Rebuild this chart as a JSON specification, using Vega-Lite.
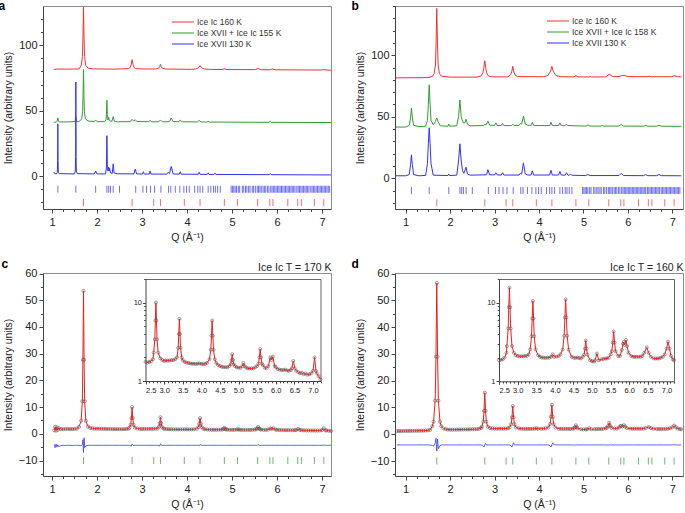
{
"$schema":"https://vega.github.io/schema/vega-lite/v6.json",
"padding":{"left":-3,"top":-2,"right":0,"bottom":0},
"columns":2,
"spacing":{"row":64,"column":64},
"bounds":"flush",
"resolve":{"scale":{"color":"independent"},"legend":{"color":"independent"}},
"datasets":{
"A":[
{"s":"r","q":1.04,"i":81.4},{"s":"r","q":1.1,"i":81.9},{"s":"r","q":1.3,"i":81.8},{"s":"r","q":1.6,"i":81.9},{"s":"r","q":1.652,"i":84.8},{"s":"r","q":1.676,"i":91.4},{"s":"r","q":1.688,"i":105.5},{"s":"r","q":1.7,"i":129},{"s":"r","q":1.712,"i":105.5},{"s":"r","q":1.724,"i":91.4},{"s":"r","q":1.748,"i":84.8},{"s":"r","q":1.8,"i":82.6},{"s":"r","q":1.9,"i":82},{"s":"r","q":2.4,"i":81.8},{"s":"r","q":2.7,"i":82.2},{"s":"r","q":2.74,"i":83.2},{"s":"r","q":2.76,"i":85.4},{"s":"r","q":2.78,"i":89},{"s":"r","q":2.8,"i":85.4},{"s":"r","q":2.82,"i":83.2},{"s":"r","q":2.86,"i":82.2},{"s":"r","q":3.0,"i":81.9},{"s":"r","q":3.3,"i":81.9},{"s":"r","q":3.37,"i":82.5},{"s":"r","q":3.39,"i":83.6},{"s":"r","q":3.41,"i":85.5},{"s":"r","q":3.43,"i":83.6},{"s":"r","q":3.45,"i":82.5},{"s":"r","q":3.52,"i":81.9},{"s":"r","q":4.1,"i":81.6},{"s":"r","q":4.19,"i":81.9},{"s":"r","q":4.24,"i":82.4},{"s":"r","q":4.265,"i":83.2},{"s":"r","q":4.29,"i":84.5},{"s":"r","q":4.315,"i":83.2},{"s":"r","q":4.34,"i":82.4},{"s":"r","q":4.39,"i":81.9},{"s":"r","q":4.5,"i":81.6},{"s":"r","q":4.79,"i":81.5},{"s":"r","q":4.83,"i":82.2},{"s":"r","q":4.87,"i":81.5},{"s":"r","q":5.52,"i":81.4},{"s":"r","q":5.58,"i":82.3},{"s":"r","q":5.64,"i":81.4},{"s":"r","q":5.85,"i":81.3},{"s":"r","q":5.9,"i":81.9},{"s":"r","q":5.96,"i":81.3},{"s":"r","q":6.5,"i":81.2},{"s":"r","q":6.99,"i":81.1},{"s":"r","q":7.04,"i":81.6},{"s":"r","q":7.09,"i":81.1},{"s":"r","q":7.2,"i":81.0},
{"s":"g","q":1.04,"i":41.2},{"s":"g","q":1.1,"i":41.5},{"s":"g","q":1.115,"i":42.2},{"s":"g","q":1.13,"i":44.5},{"s":"g","q":1.145,"i":42.2},{"s":"g","q":1.16,"i":41.5},{"s":"g","q":1.4,"i":41.5},{"s":"g","q":1.515,"i":41.9},{"s":"g","q":1.53,"i":45.5},{"s":"g","q":1.545,"i":41.9},{"s":"g","q":1.6,"i":41.6},{"s":"g","q":1.66,"i":43.9},{"s":"g","q":1.68,"i":49.5},{"s":"g","q":1.69,"i":61.5},{"s":"g","q":1.7,"i":81.5},{"s":"g","q":1.71,"i":61.5},{"s":"g","q":1.72,"i":49.5},{"s":"g","q":1.74,"i":43.9},{"s":"g","q":1.8,"i":42.2},{"s":"g","q":1.94,"i":41.7},{"s":"g","q":1.97,"i":43},{"s":"g","q":2.0,"i":41.7},{"s":"g","q":2.17,"i":41.7},{"s":"g","q":2.2,"i":43},{"s":"g","q":2.21,"i":47},{"s":"g","q":2.22,"i":58},{"s":"g","q":2.23,"i":47},{"s":"g","q":2.245,"i":43},{"s":"g","q":2.26,"i":45},{"s":"g","q":2.275,"i":42.5},{"s":"g","q":2.33,"i":41.9},{"s":"g","q":2.36,"i":45.5},{"s":"g","q":2.385,"i":42},{"s":"g","q":2.45,"i":41.6},{"s":"g","q":2.74,"i":41.7},{"s":"g","q":2.78,"i":43.5},{"s":"g","q":2.81,"i":42.3},{"s":"g","q":2.85,"i":43},{"s":"g","q":2.89,"i":41.8},{"s":"g","q":3.14,"i":41.6},{"s":"g","q":3.18,"i":42.5},{"s":"g","q":3.22,"i":41.6},{"s":"g","q":3.37,"i":41.6},{"s":"g","q":3.41,"i":43},{"s":"g","q":3.45,"i":41.6},{"s":"g","q":3.61,"i":41.7},{"s":"g","q":3.65,"i":44.5},{"s":"g","q":3.69,"i":41.8},{"s":"g","q":3.82,"i":41.6},{"s":"g","q":3.85,"i":43},{"s":"g","q":3.88,"i":41.6},{"s":"g","q":4.23,"i":41.5},{"s":"g","q":4.27,"i":42.6},{"s":"g","q":4.31,"i":41.5},{"s":"g","q":4.44,"i":41.4},{"s":"g","q":4.47,"i":42},{"s":"g","q":4.5,"i":41.4},{"s":"g","q":5.82,"i":41.2},{"s":"g","q":5.85,"i":42},{"s":"g","q":5.88,"i":41.2},{"s":"g","q":7.2,"i":41.0},
{"s":"b","q":1.04,"i":3.2},{"s":"b","q":1.06,"i":2.0},{"s":"b","q":1.1,"i":1.8},{"s":"b","q":1.118,"i":3},{"s":"b","q":1.126,"i":12},{"s":"b","q":1.13,"i":40},{"s":"b","q":1.134,"i":12},{"s":"b","q":1.142,"i":3},{"s":"b","q":1.16,"i":2},{"s":"b","q":1.5,"i":1.8},{"s":"b","q":1.518,"i":4},{"s":"b","q":1.525,"i":15},{"s":"b","q":1.53,"i":72},{"s":"b","q":1.535,"i":15},{"s":"b","q":1.542,"i":4},{"s":"b","q":1.56,"i":2},{"s":"b","q":1.94,"i":1.8},{"s":"b","q":1.97,"i":4},{"s":"b","q":2.0,"i":1.8},{"s":"b","q":2.19,"i":1.8},{"s":"b","q":2.21,"i":7},{"s":"b","q":2.22,"i":31},{"s":"b","q":2.23,"i":7},{"s":"b","q":2.245,"i":4},{"s":"b","q":2.26,"i":7},{"s":"b","q":2.27,"i":4},{"s":"b","q":2.28,"i":6},{"s":"b","q":2.3,"i":2.5},{"s":"b","q":2.34,"i":2.2},{"s":"b","q":2.36,"i":9.5},{"s":"b","q":2.38,"i":2.5},{"s":"b","q":2.45,"i":1.9},{"s":"b","q":2.82,"i":1.8},{"s":"b","q":2.85,"i":5.5},{"s":"b","q":2.88,"i":1.8},{"s":"b","q":3.01,"i":1.7},{"s":"b","q":3.03,"i":3.5},{"s":"b","q":3.05,"i":1.7},{"s":"b","q":3.16,"i":1.7},{"s":"b","q":3.18,"i":4},{"s":"b","q":3.2,"i":1.7},{"s":"b","q":3.55,"i":1.6},{"s":"b","q":3.58,"i":3},{"s":"b","q":3.61,"i":2},{"s":"b","q":3.65,"i":7.5},{"s":"b","q":3.69,"i":1.8},{"s":"b","q":3.83,"i":1.6},{"s":"b","q":3.85,"i":3.5},{"s":"b","q":3.87,"i":1.6},{"s":"b","q":4.25,"i":1.5},{"s":"b","q":4.27,"i":3},{"s":"b","q":4.29,"i":1.5},{"s":"b","q":4.45,"i":1.4},{"s":"b","q":4.47,"i":2.6},{"s":"b","q":4.49,"i":1.4},{"s":"b","q":4.6,"i":1.4},{"s":"b","q":4.62,"i":2.4},{"s":"b","q":4.64,"i":1.4},{"s":"b","q":5.83,"i":1.2},{"s":"b","q":5.85,"i":2},{"s":"b","q":5.87,"i":1.2},{"s":"b","q":7.2,"i":1.0}
],
"B":[
{"s":"r","q":0.78,"i":81.6},{"s":"r","q":1.5,"i":81.8},{"s":"r","q":1.6,"i":82.6},{"s":"r","q":1.64,"i":85},{"s":"r","q":1.67,"i":92},{"s":"r","q":1.685,"i":110},{"s":"r","q":1.7,"i":138},{"s":"r","q":1.715,"i":110},{"s":"r","q":1.73,"i":92},{"s":"r","q":1.76,"i":85},{"s":"r","q":1.8,"i":83},{"s":"r","q":2.0,"i":82.2},{"s":"r","q":2.6,"i":82.2},{"s":"r","q":2.7,"i":83.2},{"s":"r","q":2.74,"i":86},{"s":"r","q":2.76,"i":90},{"s":"r","q":2.78,"i":95.5},{"s":"r","q":2.8,"i":90},{"s":"r","q":2.82,"i":86},{"s":"r","q":2.86,"i":83.2},{"s":"r","q":2.95,"i":82.4},{"s":"r","q":3.3,"i":82.4},{"s":"r","q":3.36,"i":84},{"s":"r","q":3.39,"i":87},{"s":"r","q":3.41,"i":91},{"s":"r","q":3.43,"i":87},{"s":"r","q":3.46,"i":84},{"s":"r","q":3.52,"i":82.6},{"s":"r","q":4.1,"i":82.5},{"s":"r","q":4.2,"i":83.5},{"s":"r","q":4.26,"i":87},{"s":"r","q":4.29,"i":91},{"s":"r","q":4.32,"i":87},{"s":"r","q":4.38,"i":83.5},{"s":"r","q":4.5,"i":82.5},{"s":"r","q":4.78,"i":82.4},{"s":"r","q":4.83,"i":83.3},{"s":"r","q":4.88,"i":82.4},{"s":"r","q":5.13,"i":82.3},{"s":"r","q":5.15,"i":82.8},{"s":"r","q":5.18,"i":82.3},{"s":"r","q":5.5,"i":82.4},{"s":"r","q":5.58,"i":84.5},{"s":"r","q":5.66,"i":82.6},{"s":"r","q":5.8,"i":82.6},{"s":"r","q":5.86,"i":83.5},{"s":"r","q":5.92,"i":83.6},{"s":"r","q":6.0,"i":82.6},{"s":"r","q":6.45,"i":82.5},{"s":"r","q":6.48,"i":83},{"s":"r","q":6.52,"i":82.5},{"s":"r","q":6.98,"i":82.5},{"s":"r","q":7.05,"i":83.3},{"s":"r","q":7.12,"i":82.5},{"s":"r","q":7.2,"i":82.4},
{"s":"g","q":0.78,"i":41.6},{"s":"g","q":1.0,"i":41.6},{"s":"g","q":1.08,"i":43},{"s":"g","q":1.11,"i":49},{"s":"g","q":1.13,"i":57},{"s":"g","q":1.15,"i":49},{"s":"g","q":1.18,"i":43},{"s":"g","q":1.3,"i":42},{"s":"g","q":1.45,"i":42.3},{"s":"g","q":1.49,"i":47},{"s":"g","q":1.51,"i":60},{"s":"g","q":1.53,"i":76},{"s":"g","q":1.55,"i":60},{"s":"g","q":1.57,"i":47},{"s":"g","q":1.62,"i":43.5},{"s":"g","q":1.67,"i":46},{"s":"g","q":1.7,"i":49},{"s":"g","q":1.73,"i":46},{"s":"g","q":1.78,"i":42.6},{"s":"g","q":1.95,"i":42.3},{"s":"g","q":1.97,"i":44},{"s":"g","q":1.99,"i":42.3},{"s":"g","q":2.15,"i":42.6},{"s":"g","q":2.19,"i":50},{"s":"g","q":2.22,"i":63.5},{"s":"g","q":2.25,"i":50},{"s":"g","q":2.27,"i":47.5},{"s":"g","q":2.3,"i":45},{"s":"g","q":2.33,"i":45},{"s":"g","q":2.36,"i":48},{"s":"g","q":2.39,"i":44},{"s":"g","q":2.45,"i":42.6},{"s":"g","q":2.75,"i":42.8},{"s":"g","q":2.78,"i":44},{"s":"g","q":2.81,"i":43.3},{"s":"g","q":2.85,"i":46.5},{"s":"g","q":2.89,"i":43.1},{"s":"g","q":3.0,"i":43},{"s":"g","q":3.03,"i":45},{"s":"g","q":3.06,"i":43},{"s":"g","q":3.15,"i":42.8},{"s":"g","q":3.18,"i":44.5},{"s":"g","q":3.21,"i":42.8},{"s":"g","q":3.38,"i":42.8},{"s":"g","q":3.41,"i":44},{"s":"g","q":3.44,"i":42.8},{"s":"g","q":3.55,"i":43},{"s":"g","q":3.58,"i":44.5},{"s":"g","q":3.61,"i":44},{"s":"g","q":3.65,"i":50.5},{"s":"g","q":3.69,"i":44},{"s":"g","q":3.75,"i":43},{"s":"g","q":3.82,"i":43},{"s":"g","q":3.85,"i":45.5},{"s":"g","q":3.88,"i":43},{"s":"g","q":4.0,"i":42.8},{"s":"g","q":4.24,"i":42.8},{"s":"g","q":4.27,"i":45.5},{"s":"g","q":4.3,"i":42.8},{"s":"g","q":4.44,"i":42.8},{"s":"g","q":4.47,"i":45},{"s":"g","q":4.5,"i":42.8},{"s":"g","q":4.59,"i":42.8},{"s":"g","q":4.62,"i":44},{"s":"g","q":4.65,"i":42.8},{"s":"g","q":5.05,"i":42.4},{"s":"g","q":5.1,"i":43.2},{"s":"g","q":5.15,"i":42.4},{"s":"g","q":5.4,"i":42.4},{"s":"g","q":5.42,"i":43},{"s":"g","q":5.45,"i":42.4},{"s":"g","q":5.8,"i":42.4},{"s":"g","q":5.85,"i":43.7},{"s":"g","q":5.9,"i":42.4},{"s":"g","q":6.35,"i":42.3},{"s":"g","q":6.4,"i":43},{"s":"g","q":6.45,"i":42.3},{"s":"g","q":6.65,"i":42.3},{"s":"g","q":6.7,"i":43},{"s":"g","q":6.75,"i":42.3},{"s":"g","q":7.2,"i":42.2},
{"s":"b","q":0.78,"i":2},{"s":"b","q":1.0,"i":2},{"s":"b","q":1.08,"i":3},{"s":"b","q":1.11,"i":11},{"s":"b","q":1.13,"i":19},{"s":"b","q":1.15,"i":11},{"s":"b","q":1.18,"i":3},{"s":"b","q":1.3,"i":2},{"s":"b","q":1.45,"i":2.3},{"s":"b","q":1.49,"i":12},{"s":"b","q":1.51,"i":28},{"s":"b","q":1.53,"i":41},{"s":"b","q":1.55,"i":28},{"s":"b","q":1.57,"i":12},{"s":"b","q":1.62,"i":2.5},{"s":"b","q":1.95,"i":2.2},{"s":"b","q":1.97,"i":3.5},{"s":"b","q":1.99,"i":2.2},{"s":"b","q":2.15,"i":2.5},{"s":"b","q":2.19,"i":14},{"s":"b","q":2.22,"i":28},{"s":"b","q":2.25,"i":14},{"s":"b","q":2.28,"i":6},{"s":"b","q":2.31,"i":4},{"s":"b","q":2.36,"i":9},{"s":"b","q":2.39,"i":3.5},{"s":"b","q":2.45,"i":2.5},{"s":"b","q":2.82,"i":2.8},{"s":"b","q":2.85,"i":7},{"s":"b","q":2.89,"i":2.8},{"s":"b","q":3.0,"i":2.7},{"s":"b","q":3.03,"i":4.5},{"s":"b","q":3.06,"i":2.7},{"s":"b","q":3.15,"i":2.6},{"s":"b","q":3.18,"i":4.5},{"s":"b","q":3.21,"i":2.6},{"s":"b","q":3.55,"i":2.6},{"s":"b","q":3.58,"i":4},{"s":"b","q":3.61,"i":3.5},{"s":"b","q":3.65,"i":12.5},{"s":"b","q":3.69,"i":3.5},{"s":"b","q":3.75,"i":2.6},{"s":"b","q":3.82,"i":2.6},{"s":"b","q":3.85,"i":6},{"s":"b","q":3.88,"i":2.6},{"s":"b","q":4.24,"i":2.6},{"s":"b","q":4.27,"i":6.5},{"s":"b","q":4.3,"i":2.6},{"s":"b","q":4.44,"i":2.6},{"s":"b","q":4.47,"i":5.5},{"s":"b","q":4.5,"i":2.6},{"s":"b","q":4.59,"i":2.5},{"s":"b","q":4.62,"i":4.5},{"s":"b","q":4.65,"i":2.5},{"s":"b","q":4.68,"i":2.4},{"s":"b","q":4.71,"i":3.5},{"s":"b","q":4.74,"i":2.4},{"s":"b","q":5.05,"i":2.2},{"s":"b","q":5.1,"i":3},{"s":"b","q":5.15,"i":2.2},{"s":"b","q":5.8,"i":2.2},{"s":"b","q":5.85,"i":4},{"s":"b","q":5.9,"i":2.2},{"s":"b","q":6.35,"i":2.1},{"s":"b","q":6.4,"i":3},{"s":"b","q":6.45,"i":2.1},{"s":"b","q":6.65,"i":2.1},{"s":"b","q":6.7,"i":3},{"s":"b","q":6.75,"i":2.1},{"s":"b","q":7.2,"i":2}
],
"T17":[{"q":1.13},{"q":1.53},{"q":1.97},{"q":2.22},{"q":2.26},{"q":2.3},{"q":2.36},{"q":2.5},{"q":2.86},{"q":3.02},{"q":3.1},{"q":3.19},{"q":3.28},{"q":3.42},{"q":3.59},{"q":3.64},{"q":3.74},{"q":3.84},{"q":3.93},{"q":3.99},{"q":4.05},{"q":4.17},{"q":4.24},{"q":4.29},{"q":4.35},{"q":4.47},{"q":4.53},{"q":4.59},{"q":4.63},{"q":4.68},{"q":4.74},{"q":4.98},{"q":5.01},{"q":5.04},{"q":5.07},{"q":5.1},{"q":5.14},{"q":5.17},{"q":5.23},{"q":5.26},{"q":5.3},{"q":5.33},{"q":5.37},{"q":5.4},{"q":5.45},{"q":5.48},{"q":5.52},{"q":5.56},{"q":5.59},{"q":5.62},{"q":5.65},{"q":5.69},{"q":5.72},{"q":5.75},{"q":5.79},{"q":5.82},{"q":5.86},{"q":5.89},{"q":5.92},{"q":5.95},{"q":5.98},{"q":6.01},{"q":6.04},{"q":6.07},{"q":6.1},{"q":6.13},{"q":6.16},{"q":6.19},{"q":6.22},{"q":6.25},{"q":6.28},{"q":6.31},{"q":6.34},{"q":6.37},{"q":6.4},{"q":6.44},{"q":6.47},{"q":6.5},{"q":6.53},{"q":6.56},{"q":6.59},{"q":6.62},{"q":6.65},{"q":6.68},{"q":6.71},{"q":6.75},{"q":6.78},{"q":6.81},{"q":6.84},{"q":6.87},{"q":6.9},{"q":6.93},{"q":6.96},{"q":6.99},{"q":7.02},{"q":7.05},{"q":7.08},{"q":7.11},{"q":7.14},{"q":7.17}],
"TIc":[{"q":1.7},{"q":2.78},{"q":3.26},{"q":3.41},{"q":3.94},{"q":4.29},{"q":4.83},{"q":5.12},{"q":5.57},{"q":5.84},{"q":5.91},{"q":6.24},{"q":6.46},{"q":6.54},{"q":6.83},{"q":7.04}],
"C":[
{"q":1.05,"i":1.3,"d":-4.0},{"q":1.07,"i":2.6,"d":-5.2},{"q":1.09,"i":1.2,"d":-3.8},{"q":1.11,"i":2.4,"d":-5.0},{"q":1.13,"i":1.5,"d":-4.1},{"q":1.15,"i":2.1,"d":-4.8},{"q":1.2,"i":1.8,"d":-4.4},{"q":1.25,"i":1.75,"d":-4.3},{"q":1.3,"i":1.8,"d":-4.4},{"q":1.35,"i":1.8,"d":-4.3},{"q":1.4,"i":1.75,"d":-4.3},{"q":1.45,"i":1.8,"d":-4.4},{"q":1.5,"i":1.8,"d":-4.3},{"q":1.55,"i":1.9,"d":-4.3},{"q":1.6,"i":2.6,"d":-4.3},{"q":1.648,"i":4.9,"d":-4.5},{"q":1.674,"i":12.2,"d":-4.0},{"q":1.687,"i":27.7,"d":-2.2},{"q":1.7,"i":53.5,"d":-7.0},{"q":1.713,"i":27.7,"d":-1.5},{"q":1.726,"i":12.2,"d":-5.2},{"q":1.752,"i":4.9,"d":-4.5},{"q":1.8,"i":2.7,"d":-4.3},{"q":1.85,"i":2.2,"d":-4.3},{"q":1.9,"i":2.05,"d":-4.3},{"q":1.95,"i":1.95,"d":-4.3},{"q":2.0,"i":1.9,"d":-4.3},{"q":2.05,"i":1.9,"d":-4.3},{"q":2.1,"i":1.85,"d":-4.3},{"q":2.15,"i":1.85,"d":-4.3},{"q":2.2,"i":1.8,"d":-4.3},{"q":2.25,"i":1.8,"d":-4.3},{"q":2.3,"i":1.8,"d":-4.3},{"q":2.35,"i":1.75,"d":-4.3},{"q":2.4,"i":1.75,"d":-4.3},{"q":2.45,"i":1.75,"d":-4.3},{"q":2.5,"i":1.75,"d":-4.3},{"q":2.55,"i":1.72,"d":-4.3},{"q":2.6,"i":1.75,"d":-4.3},{"q":2.65,"i":1.78,"d":-4.3},{"q":2.7,"i":1.9,"d":-4.3},{"q":2.72,"i":2.3,"d":-4.3},{"q":2.75,"i":3.4,"d":-4.5},{"q":2.765,"i":5.9,"d":-4.6},{"q":2.78,"i":10,"d":-3.8},{"q":2.795,"i":5.9,"d":-4.0},{"q":2.81,"i":3.4,"d":-4.4},{"q":2.84,"i":2.3,"d":-4.3},{"q":2.9,"i":1.95,"d":-4.3},{"q":2.95,"i":1.85,"d":-4.3},{"q":3.0,"i":1.8,"d":-4.3},{"q":3.05,"i":1.82,"d":-4.3},{"q":3.1,"i":1.82,"d":-4.3},{"q":3.15,"i":1.83,"d":-4.3},{"q":3.2,"i":1.85,"d":-4.3},{"q":3.25,"i":1.85,"d":-4.3},{"q":3.3,"i":1.9,"d":-4.3},{"q":3.346,"i":2.0,"d":-4.3},{"q":3.378,"i":2.65,"d":-4.4},{"q":3.394,"i":3.98,"d":-4.6},{"q":3.41,"i":6.2,"d":-3.7},{"q":3.426,"i":3.98,"d":-4.1},{"q":3.442,"i":2.65,"d":-4.3},{"q":3.474,"i":2.0,"d":-4.3},{"q":3.5,"i":1.85,"d":-4.3},{"q":3.55,"i":1.75,"d":-4.3},{"q":3.6,"i":1.72,"d":-4.3},{"q":3.65,"i":1.7,"d":-4.3},{"q":3.7,"i":1.68,"d":-4.3},{"q":3.75,"i":1.66,"d":-4.3},{"q":3.8,"i":1.66,"d":-4.3},{"q":3.85,"i":1.65,"d":-4.3},{"q":3.9,"i":1.66,"d":-4.3},{"q":3.95,"i":1.68,"d":-4.3},{"q":4.0,"i":1.65,"d":-4.3},{"q":4.05,"i":1.64,"d":-4.3},{"q":4.1,"i":1.65,"d":-4.3},{"q":4.15,"i":1.7,"d":-4.3},{"q":4.218,"i":1.9,"d":-4.3},{"q":4.254,"i":2.5,"d":-4.3},{"q":4.272,"i":3.78,"d":-4.5},{"q":4.29,"i":5.9,"d":-4.0},{"q":4.308,"i":3.78,"d":-4.2},{"q":4.326,"i":2.5,"d":-4.3},{"q":4.362,"i":1.9,"d":-4.3},{"q":4.4,"i":1.7,"d":-4.3},{"q":4.45,"i":1.6,"d":-4.3},{"q":4.5,"i":1.55,"d":-4.3},{"q":4.55,"i":1.52,"d":-4.3},{"q":4.6,"i":1.5,"d":-4.3},{"q":4.65,"i":1.5,"d":-4.3},{"q":4.7,"i":1.5,"d":-4.3},{"q":4.75,"i":1.55,"d":-4.3},{"q":4.79,"i":1.64,"d":-4.3},{"q":4.81,"i":1.85,"d":-4.3},{"q":4.83,"i":2.2,"d":-4.3},{"q":4.85,"i":1.85,"d":-4.3},{"q":4.87,"i":1.64,"d":-4.3},{"q":4.9,"i":1.55,"d":-4.3},{"q":4.95,"i":1.5,"d":-4.3},{"q":5.0,"i":1.48,"d":-4.3},{"q":5.05,"i":1.47,"d":-4.3},{"q":5.1,"i":1.55,"d":-4.3},{"q":5.13,"i":1.7,"d":-4.3},{"q":5.16,"i":1.55,"d":-4.3},{"q":5.2,"i":1.48,"d":-4.3},{"q":5.25,"i":1.45,"d":-4.3},{"q":5.3,"i":1.44,"d":-4.3},{"q":5.35,"i":1.45,"d":-4.3},{"q":5.4,"i":1.45,"d":-4.3},{"q":5.45,"i":1.5,"d":-4.3},{"q":5.5,"i":1.55,"d":-4.3},{"q":5.536,"i":1.67,"d":-4.3},{"q":5.558,"i":2.0,"d":-4.4},{"q":5.58,"i":2.55,"d":-4.0},{"q":5.602,"i":2.0,"d":-4.3},{"q":5.624,"i":1.67,"d":-4.3},{"q":5.65,"i":1.6,"d":-4.3},{"q":5.7,"i":1.48,"d":-4.3},{"q":5.75,"i":1.45,"d":-4.3},{"q":5.8,"i":1.55,"d":-4.3},{"q":5.85,"i":2.0,"d":-4.3},{"q":5.885,"i":1.85,"d":-4.3},{"q":5.92,"i":2.05,"d":-4.3},{"q":5.97,"i":1.55,"d":-4.3},{"q":6.0,"i":1.5,"d":-4.3},{"q":6.05,"i":1.42,"d":-4.3},{"q":6.1,"i":1.4,"d":-4.3},{"q":6.15,"i":1.38,"d":-4.3},{"q":6.2,"i":1.38,"d":-4.3},{"q":6.25,"i":1.4,"d":-4.3},{"q":6.3,"i":1.36,"d":-4.3},{"q":6.35,"i":1.35,"d":-4.3},{"q":6.4,"i":1.38,"d":-4.3},{"q":6.43,"i":1.45,"d":-4.3},{"q":6.47,"i":1.8,"d":-4.3},{"q":6.51,"i":1.45,"d":-4.3},{"q":6.55,"i":1.35,"d":-4.3},{"q":6.6,"i":1.3,"d":-4.3},{"q":6.65,"i":1.25,"d":-4.3},{"q":6.7,"i":1.28,"d":-4.3},{"q":6.75,"i":1.22,"d":-4.3},{"q":6.8,"i":1.25,"d":-4.3},{"q":6.85,"i":1.2,"d":-4.3},{"q":6.9,"i":1.22,"d":-4.3},{"q":6.95,"i":1.25,"d":-4.3},{"q":7.0,"i":1.35,"d":-4.3},{"q":7.04,"i":2.0,"d":-4.2},{"q":7.08,"i":1.35,"d":-4.3},{"q":7.1,"i":1.25,"d":-4.3},{"q":7.15,"i":1.15,"d":-4.3},{"q":7.2,"i":1.05,"d":-4.3}
],
"D":[
{"q":0.8,"i":1.15,"d":-4.0},{"q":0.85,"i":1.2,"d":-4.0},{"q":0.9,"i":1.2,"d":-4.0},{"q":0.95,"i":1.2,"d":-4.0},{"q":1.0,"i":1.22,"d":-4.0},{"q":1.05,"i":1.22,"d":-4.0},{"q":1.1,"i":1.25,"d":-4.0},{"q":1.15,"i":1.25,"d":-4.0},{"q":1.2,"i":1.27,"d":-4.0},{"q":1.25,"i":1.28,"d":-4.0},{"q":1.3,"i":1.3,"d":-4.0},{"q":1.35,"i":1.32,"d":-4.0},{"q":1.4,"i":1.35,"d":-4.0},{"q":1.45,"i":1.38,"d":-4.0},{"q":1.5,"i":1.45,"d":-4.0},{"q":1.55,"i":1.6,"d":-4.0},{"q":1.6,"i":3.0,"d":-4.2},{"q":1.628,"i":4.7,"d":-4.4},{"q":1.664,"i":12.5,"d":-3.3},{"q":1.682,"i":29,"d":-1.5},{"q":1.7,"i":56.5,"d":-6.3},{"q":1.718,"i":29,"d":-1.8},{"q":1.736,"i":12.5,"d":-5.4},{"q":1.772,"i":4.7,"d":-4.3},{"q":1.8,"i":3.0,"d":-4.0},{"q":1.85,"i":2.2,"d":-4.0},{"q":1.9,"i":1.9,"d":-4.0},{"q":1.95,"i":1.75,"d":-4.0},{"q":2.0,"i":1.7,"d":-4.0},{"q":2.05,"i":1.7,"d":-4.0},{"q":2.1,"i":1.72,"d":-4.0},{"q":2.15,"i":1.72,"d":-4.0},{"q":2.2,"i":1.75,"d":-4.0},{"q":2.25,"i":1.75,"d":-4.0},{"q":2.3,"i":1.78,"d":-4.0},{"q":2.35,"i":1.8,"d":-4.0},{"q":2.4,"i":1.8,"d":-4.0},{"q":2.45,"i":1.82,"d":-4.0},{"q":2.5,"i":1.85,"d":-4.0},{"q":2.55,"i":1.88,"d":-4.0},{"q":2.6,"i":1.9,"d":-4.0},{"q":2.65,"i":2.0,"d":-4.0},{"q":2.7,"i":2.3,"d":-4.0},{"q":2.712,"i":2.8,"d":-4.1},{"q":2.746,"i":4.7,"d":-4.5},{"q":2.763,"i":8.75,"d":-4.8},{"q":2.78,"i":15.5,"d":-4.0},{"q":2.797,"i":8.75,"d":-3.4},{"q":2.814,"i":4.7,"d":-4.0},{"q":2.848,"i":2.8,"d":-4.0},{"q":2.9,"i":2.3,"d":-4.0},{"q":2.95,"i":2.15,"d":-4.0},{"q":3.0,"i":2.1,"d":-4.0},{"q":3.05,"i":2.08,"d":-4.0},{"q":3.1,"i":2.08,"d":-4.0},{"q":3.15,"i":2.08,"d":-4.0},{"q":3.2,"i":2.1,"d":-4.0},{"q":3.25,"i":2.1,"d":-4.0},{"q":3.3,"i":2.2,"d":-4.0},{"q":3.338,"i":2.55,"d":-4.0},{"q":3.374,"i":3.74,"d":-4.3},{"q":3.392,"i":6.3,"d":-4.8},{"q":3.41,"i":10.5,"d":-4.0},{"q":3.428,"i":6.3,"d":-3.2},{"q":3.446,"i":3.74,"d":-3.9},{"q":3.482,"i":2.55,"d":-4.0},{"q":3.55,"i":2.15,"d":-4.0},{"q":3.6,"i":2.05,"d":-4.0},{"q":3.65,"i":2.0,"d":-4.0},{"q":3.7,"i":2.0,"d":-4.0},{"q":3.75,"i":1.98,"d":-4.0},{"q":3.8,"i":2.0,"d":-4.0},{"q":3.85,"i":2.0,"d":-4.0},{"q":3.9,"i":2.05,"d":-4.0},{"q":3.94,"i":2.2,"d":-4.0},{"q":3.98,"i":2.05,"d":-4.0},{"q":4.05,"i":2.05,"d":-4.0},{"q":4.1,"i":2.1,"d":-4.0},{"q":4.15,"i":2.2,"d":-4.0},{"q":4.21,"i":2.53,"d":-4.0},{"q":4.25,"i":3.8,"d":-4.3},{"q":4.27,"i":6.5,"d":-4.8},{"q":4.29,"i":11,"d":-4.0},{"q":4.31,"i":6.5,"d":-3.2},{"q":4.33,"i":3.8,"d":-3.8},{"q":4.37,"i":2.53,"d":-4.0},{"q":4.45,"i":2.05,"d":-4.0},{"q":4.5,"i":2.0,"d":-4.0},{"q":4.55,"i":1.98,"d":-4.0},{"q":4.6,"i":2.0,"d":-4.0},{"q":4.65,"i":1.98,"d":-4.0},{"q":4.7,"i":1.95,"d":-4.0},{"q":4.75,"i":2.05,"d":-4.0},{"q":4.786,"i":2.18,"d":-4.0},{"q":4.808,"i":2.6,"d":-4.2},{"q":4.83,"i":3.3,"d":-3.9},{"q":4.852,"i":2.6,"d":-4.0},{"q":4.874,"i":2.18,"d":-4.0},{"q":4.95,"i":1.85,"d":-4.0},{"q":5.0,"i":1.8,"d":-4.0},{"q":5.05,"i":1.78,"d":-4.0},{"q":5.08,"i":1.85,"d":-4.0},{"q":5.13,"i":2.25,"d":-4.0},{"q":5.18,"i":1.85,"d":-4.0},{"q":5.25,"i":1.9,"d":-4.0},{"q":5.3,"i":1.92,"d":-4.0},{"q":5.35,"i":1.95,"d":-4.0},{"q":5.4,"i":1.95,"d":-4.0},{"q":5.45,"i":2.0,"d":-4.0},{"q":5.5,"i":2.2,"d":-4.0},{"q":5.53,"i":2.42,"d":-4.0},{"q":5.555,"i":3.1,"d":-4.2},{"q":5.58,"i":4.3,"d":-3.9},{"q":5.605,"i":3.1,"d":-4.0},{"q":5.63,"i":2.42,"d":-4.0},{"q":5.7,"i":2.1,"d":-4.0},{"q":5.75,"i":2.1,"d":-4.0},{"q":5.8,"i":2.5,"d":-4.0},{"q":5.83,"i":3.0,"d":-4.0},{"q":5.85,"i":3.15,"d":-4.0},{"q":5.875,"i":2.9,"d":-4.0},{"q":5.91,"i":3.35,"d":-4.0},{"q":5.94,"i":2.8,"d":-4.0},{"q":5.98,"i":2.3,"d":-4.0},{"q":6.05,"i":2.1,"d":-4.0},{"q":6.1,"i":2.05,"d":-4.0},{"q":6.15,"i":2.05,"d":-4.0},{"q":6.2,"i":2.05,"d":-4.0},{"q":6.25,"i":2.05,"d":-4.0},{"q":6.3,"i":2.05,"d":-4.0},{"q":6.35,"i":2.1,"d":-4.0},{"q":6.4,"i":2.3,"d":-4.0},{"q":6.47,"i":2.7,"d":-4.0},{"q":6.52,"i":2.3,"d":-4.0},{"q":6.58,"i":2.05,"d":-4.0},{"q":6.65,"i":1.95,"d":-4.0},{"q":6.7,"i":1.95,"d":-4.0},{"q":6.75,"i":1.95,"d":-4.0},{"q":6.8,"i":1.95,"d":-4.0},{"q":6.85,"i":2.0,"d":-4.0},{"q":6.9,"i":2.05,"d":-4.0},{"q":6.95,"i":2.2,"d":-4.0},{"q":7.0,"i":2.6,"d":-4.0},{"q":7.04,"i":3.2,"d":-3.9},{"q":7.08,"i":2.6,"d":-4.0},{"q":7.12,"i":2.1,"d":-4.0},{"q":7.17,"i":1.9,"d":-4.0},{"q":7.2,"i":1.85,"d":-4.0}
]
},
"concat":[
{
 "width":288,"height":203,
 "layer":[
  {"data":{"name":"A"},"mark":{"type":"line","strokeWidth":1},
   "encoding":{
    "x":{"field":"q","type":"quantitative","scale":{"domain":[0.8,7.2],"nice":false,"zero":false},
         "axis":{"title":"Q (Å⁻¹)","values":[1,1.25,1.5,1.75,2,2.25,2.5,2.75,3,3.25,3.5,3.75,4,4.25,4.5,4.75,5,5.25,5.5,5.75,6,6.25,6.5,6.75,7],"labelExpr":"datum.value % 1 === 0 ? format(datum.value, 'd') : ''","tickSize":{"condition":{"test":"datum.value % 1 === 0","value":4},"value":2.5}}},
    "y":{"field":"i","type":"quantitative","scale":{"domain":[-25,130],"nice":false,"zero":false},
         "axis":{"orient":"left","title":"Intensity (arbitrary units)","values":[0,50,100],"format":"d","tickSize":4}},
    "color":{"field":"s","type":"nominal","scale":{"domain":["r","g","b"],"range":["#f03232","#2f9e2f","#3232f5"]},
         "legend":{"orient":"none","legendX":134,"legendY":10,"title":null,"symbolType":"M-2,0H2","symbolSize":121,"symbolStrokeWidth":1,"labelFontSize":8.5,"labelOffset":8,"rowPadding":-1.5,"padding":0,"labelColor":"#333","labelExpr":"datum.label === 'r' ? 'Ice Ic 160 K' : datum.label === 'g' ? 'Ice XVII + Ice Ic 155 K' : 'Ice XVII 130 K'"}}
   }},
  {"data":{"name":"T17"},"mark":{"type":"tick","orient":"vertical","size":7,"thickness":1,"color":"#3232f5"},
   "encoding":{"x":{"field":"q","type":"quantitative","scale":{"domain":[0.8,7.2],"nice":false,"zero":false},
         "axis":{"orient":"top","title":"a","titleX":-45,"titleY":3,"titleAlign":"left","titleAnchor":null,"titleBaseline":"alphabetic","titleFontWeight":"bold","titleFontSize":12,"titleColor":"#000","labels":false,"ticks":false,"domain":false}},
    "y":{"datum":-10,"type":"quantitative","scale":{"domain":[-25,130],"nice":false,"zero":false},
         "axis":{"orient":"left","title":null,"values":[-20,-10,10,20,30,40,60,70,80,90,110,120],"labels":false,"domain":false,"tickSize":2.5}}}},
  {"data":{"name":"TIc"},"mark":{"type":"tick","orient":"vertical","size":7,"thickness":1,"color":"#f03232"},
   "encoding":{"x":{"field":"q","type":"quantitative","scale":{"domain":[0.8,7.2],"nice":false,"zero":false},"axis":null},"y":{"datum":-20,"type":"quantitative","scale":{"domain":[-25,130],"nice":false,"zero":false},"axis":null}}}
 ],
 "resolve":{"axis":{"x":"independent","y":"independent"}}
},
{
 "width":288,"height":203,
 "layer":[
  {"data":{"name":"B"},"mark":{"type":"line","strokeWidth":1},
   "encoding":{
    "x":{"field":"q","type":"quantitative","scale":{"domain":[0.76,7.24],"nice":false,"zero":false},
         "axis":{"title":"Q (Å⁻¹)","values":[1,1.25,1.5,1.75,2,2.25,2.5,2.75,3,3.25,3.5,3.75,4,4.25,4.5,4.75,5,5.25,5.5,5.75,6,6.25,6.5,6.75,7],"labelExpr":"datum.value % 1 === 0 ? format(datum.value, 'd') : ''","tickSize":{"condition":{"test":"datum.value % 1 === 0","value":4},"value":2.5}}},
    "y":{"field":"i","type":"quantitative","scale":{"domain":[-25,140],"nice":false,"zero":false},
         "axis":{"orient":"left","title":"Intensity (arbitrary units)","values":[0,50,100],"format":"d","tickSize":4}},
    "color":{"field":"s","type":"nominal","scale":{"domain":["r","g","b"],"range":["#f03232","#2f9e2f","#3232f5"]},
         "legend":{"orient":"none","legendX":157,"legendY":9,"title":null,"symbolType":"M-2,0H2","symbolSize":121,"symbolStrokeWidth":1,"labelFontSize":8.5,"labelOffset":8,"rowPadding":-1.5,"padding":0,"labelColor":"#333","labelExpr":"datum.label === 'r' ? 'Ice Ic 160 K' : datum.label === 'g' ? 'Ice XVII + Ice Ic 158 K' : 'Ice XVII 130 K'"}}
   }},
  {"data":{"name":"T17"},"mark":{"type":"tick","orient":"vertical","size":7,"thickness":1,"color":"#3232f5"},
   "encoding":{"x":{"field":"q","type":"quantitative","scale":{"domain":[0.76,7.24],"nice":false,"zero":false},
         "axis":{"orient":"top","title":"b","titleX":-44,"titleY":3,"titleAlign":"left","titleAnchor":null,"titleBaseline":"alphabetic","titleFontWeight":"bold","titleFontSize":12,"titleColor":"#000","labels":false,"ticks":false,"domain":false}},
    "y":{"datum":-10,"type":"quantitative","scale":{"domain":[-25,140],"nice":false,"zero":false},
         "axis":{"orient":"left","title":null,"values":[-20,-10,10,20,30,40,60,70,80,90,110,120,130,140],"labels":false,"domain":false,"tickSize":2.5}}}},
  {"data":{"name":"TIc"},"mark":{"type":"tick","orient":"vertical","size":7,"thickness":1,"color":"#f03232"},
   "encoding":{"x":{"field":"q","type":"quantitative","scale":{"domain":[0.76,7.24],"nice":false,"zero":false},"axis":null},"y":{"datum":-20,"type":"quantitative","scale":{"domain":[-25,140],"nice":false,"zero":false},"axis":null}}}
 ],
 "resolve":{"axis":{"x":"independent","y":"independent"}}
},
{
 "width":288,"height":203,
 "data":{"name":"C"},
 "layer":[
  {"layer":[
    {"mark":{"type":"point","filled":false,"size":10,"strokeWidth":0.6,"color":"#444","opacity":0.85},
     "encoding":{
      "x":{"field":"q","type":"quantitative","scale":{"domain":[0.8,7.2],"nice":false,"zero":false},
           "axis":{"title":"Q (Å⁻¹)","values":[1,1.25,1.5,1.75,2,2.25,2.5,2.75,3,3.25,3.5,3.75,4,4.25,4.5,4.75,5,5.25,5.5,5.75,6,6.25,6.5,6.75,7],"labelExpr":"datum.value % 1 === 0 ? format(datum.value, 'd') : ''","tickSize":{"condition":{"test":"datum.value % 1 === 0","value":4},"value":2.5}}},
      "y":{"field":"i","type":"quantitative","scale":{"domain":[-15.8,60.2],"nice":false,"zero":false},
           "axis":{"orient":"left","title":"Intensity (arbitrary units)","values":[-10,0,10,20,30,40,50,60],"format":"d","tickSize":4}}}},
    {"mark":{"type":"line","color":"#e82020","strokeWidth":1},
     "encoding":{
      "x":{"field":"q","type":"quantitative","scale":{"domain":[0.8,7.2],"nice":false,"zero":false},
           "axis":{"orient":"top","title":"Ice Ic T = 170 K","titleAnchor":"end","titlePadding":1,"labels":false,"ticks":false,"domain":false}},
      "y":{"field":"i","type":"quantitative","scale":{"domain":[-15.8,60.2],"nice":false,"zero":false},"axis":null}}},
    {"mark":{"type":"line","color":"#3a3af5","strokeWidth":0.8},
     "encoding":{
      "x":{"field":"q","type":"quantitative","scale":{"domain":[0.8,7.2],"nice":false,"zero":false},"axis":null},
      "y":{"field":"d","type":"quantitative","scale":{"domain":[-15.8,60.2],"nice":false,"zero":false},
           "axis":{"orient":"left","title":null,"values":[-15,-5,5,15,25,35,45,55],"labels":false,"domain":false,"tickSize":2.5}}}},
    {"data":{"name":"TIc"},"mark":{"type":"tick","orient":"vertical","size":7,"thickness":1,"color":"#2f9e2f"},
     "encoding":{
      "x":{"field":"q","type":"quantitative","scale":{"domain":[0.8,7.2],"nice":false,"zero":false},
           "axis":{"orient":"top","title":"c","titleX":-42,"titleY":-6,"titleAlign":"left","titleAnchor":null,"titleBaseline":"alphabetic","titleFontWeight":"bold","titleFontSize":12,"titleColor":"#000","labels":false,"ticks":false,"domain":false}},
      "y":{"datum":-10,"type":"quantitative","scale":{"domain":[-15.8,60.2],"nice":false,"zero":false},"axis":null}}}
   ],
   "resolve":{"axis":{"x":"independent","y":"independent"}}},
  {"transform":[{"filter":"datum.q >= 2.5"}],
   "layer":[
    {"mark":{"type":"point","filled":false,"size":9,"strokeWidth":0.6,"color":"#444","opacity":0.85},
     "encoding":{
      "x":{"field":"q","type":"quantitative","scale":{"domain":[2.5,7.2],"range":[102.5,277.5],"nice":false,"zero":false},
           "axis":{"orient":"bottom","offset":-95,"title":null,"values":[2.5,2.6,2.7,2.8,2.9,3,3.1,3.2,3.3,3.4,3.5,3.6,3.7,3.8,3.9,4,4.1,4.2,4.3,4.4,4.5,4.6,4.7,4.8,4.9,5,5.1,5.2,5.3,5.4,5.5,5.6,5.7,5.8,5.9,6,6.1,6.2,6.3,6.4,6.5,6.6,6.7,6.8,6.9,7,7.1,7.2],"labelExpr":"abs(datum.value*2 - round(datum.value*2)) < 0.001 ? format(datum.value, '.1f') : ''","labelFontSize":7.5,"labelPadding":2,"tickSize":{"condition":{"test":"abs(datum.value*2 - round(datum.value*2)) < 0.001","value":3},"value":1.8}}},
      "y":{"field":"i","type":"quantitative","scale":{"type":"log","domain":[1,20],"range":[108,6],"nice":false},
           "axis":{"orient":"left","offset":-102.5,"title":null,"values":[1,2,3,4,5,6,7,8,9,10,20],"labelExpr":"datum.value === 1 || datum.value === 10 ? format(datum.value, 'd') : ''","labelFontSize":7.5,"labelPadding":1,"tickSize":{"condition":{"test":"datum.value === 1 || datum.value === 10","value":3},"value":1.8}}}}},
    {"mark":{"type":"line","color":"#e82020","strokeWidth":1},
     "encoding":{
      "x":{"field":"q","type":"quantitative","scale":{"domain":[2.5,7.2],"range":[102.5,277.5],"nice":false,"zero":false},
           "axis":{"orient":"top","offset":-6,"title":null,"labels":false,"ticks":false,"domainColor":"#666"}},
      "y":{"field":"i","type":"quantitative","scale":{"type":"log","domain":[1,20],"range":[108,6],"nice":false},
           "axis":{"orient":"right","offset":-10.5,"title":null,"labels":false,"ticks":false,"domainColor":"#666"}}}}
   ],
   "resolve":{"axis":{"x":"independent","y":"independent"}}}
 ],
 "resolve":{"scale":{"x":"independent","y":"independent"}}
},
{
 "width":288,"height":203,
 "data":{"name":"D"},
 "layer":[
  {"layer":[
    {"mark":{"type":"point","filled":false,"size":10,"strokeWidth":0.6,"color":"#444","opacity":0.85},
     "encoding":{
      "x":{"field":"q","type":"quantitative","scale":{"domain":[0.76,7.24],"nice":false,"zero":false},
           "axis":{"title":"Q (Å⁻¹)","values":[1,1.25,1.5,1.75,2,2.25,2.5,2.75,3,3.25,3.5,3.75,4,4.25,4.5,4.75,5,5.25,5.5,5.75,6,6.25,6.5,6.75,7],"labelExpr":"datum.value % 1 === 0 ? format(datum.value, 'd') : ''","tickSize":{"condition":{"test":"datum.value % 1 === 0","value":4},"value":2.5}}},
      "y":{"field":"i","type":"quantitative","scale":{"domain":[-15.6,60.2],"nice":false,"zero":false},
           "axis":{"orient":"left","title":"Intensity (arbitrary units)","values":[-10,0,10,20,30,40,50,60],"format":"d","tickSize":4}}}},
    {"mark":{"type":"line","color":"#e82020","strokeWidth":1},
     "encoding":{
      "x":{"field":"q","type":"quantitative","scale":{"domain":[0.76,7.24],"nice":false,"zero":false},
           "axis":{"orient":"top","title":"Ice Ic T = 160 K","titleAnchor":"end","titlePadding":1,"labels":false,"ticks":false,"domain":false}},
      "y":{"field":"i","type":"quantitative","scale":{"domain":[-15.6,60.2],"nice":false,"zero":false},"axis":null}}},
    {"mark":{"type":"line","color":"#3a3af5","strokeWidth":0.8},
     "encoding":{
      "x":{"field":"q","type":"quantitative","scale":{"domain":[0.76,7.24],"nice":false,"zero":false},"axis":null},
      "y":{"field":"d","type":"quantitative","scale":{"domain":[-15.6,60.2],"nice":false,"zero":false},
           "axis":{"orient":"left","title":null,"values":[-15,-5,5,15,25,35,45,55],"labels":false,"domain":false,"tickSize":2.5}}}},
    {"data":{"name":"TIc"},"mark":{"type":"tick","orient":"vertical","size":7,"thickness":1,"color":"#2f9e2f"},
     "encoding":{
      "x":{"field":"q","type":"quantitative","scale":{"domain":[0.76,7.24],"nice":false,"zero":false},
           "axis":{"orient":"top","title":"d","titleX":-44,"titleY":-6,"titleAlign":"left","titleAnchor":null,"titleBaseline":"alphabetic","titleFontWeight":"bold","titleFontSize":12,"titleColor":"#000","labels":false,"ticks":false,"domain":false}},
      "y":{"datum":-10,"type":"quantitative","scale":{"domain":[-15.6,60.2],"nice":false,"zero":false},"axis":null}}}
   ],
   "resolve":{"axis":{"x":"independent","y":"independent"}}},
  {"transform":[{"filter":"datum.q >= 2.5"}],
   "layer":[
    {"mark":{"type":"point","filled":false,"size":9,"strokeWidth":0.6,"color":"#444","opacity":0.85},
     "encoding":{
      "x":{"field":"q","type":"quantitative","scale":{"domain":[2.5,7.2],"range":[104,279],"nice":false,"zero":false},
           "axis":{"orient":"bottom","offset":-94.7,"title":null,"values":[2.5,2.6,2.7,2.8,2.9,3,3.1,3.2,3.3,3.4,3.5,3.6,3.7,3.8,3.9,4,4.1,4.2,4.3,4.4,4.5,4.6,4.7,4.8,4.9,5,5.1,5.2,5.3,5.4,5.5,5.6,5.7,5.8,5.9,6,6.1,6.2,6.3,6.4,6.5,6.6,6.7,6.8,6.9,7,7.1,7.2],"labelExpr":"abs(datum.value*2 - round(datum.value*2)) < 0.001 ? format(datum.value, '.1f') : ''","labelFontSize":7.5,"labelPadding":2,"tickSize":{"condition":{"test":"abs(datum.value*2 - round(datum.value*2)) < 0.001","value":3},"value":1.8}}},
      "y":{"field":"i","type":"quantitative","scale":{"type":"log","domain":[1,20],"range":[108.3,6],"nice":false},
           "axis":{"orient":"left","offset":-104,"title":null,"values":[1,2,3,4,5,6,7,8,9,10,20],"labelExpr":"datum.value === 1 || datum.value === 10 ? format(datum.value, 'd') : ''","labelFontSize":7.5,"labelPadding":1,"tickSize":{"condition":{"test":"datum.value === 1 || datum.value === 10","value":3},"value":1.8}}}}},
    {"mark":{"type":"line","color":"#e82020","strokeWidth":1},
     "encoding":{
      "x":{"field":"q","type":"quantitative","scale":{"domain":[2.5,7.2],"range":[104,279],"nice":false,"zero":false},
           "axis":{"orient":"top","offset":-6,"title":null,"labels":false,"ticks":false,"domainColor":"#666"}},
      "y":{"field":"i","type":"quantitative","scale":{"type":"log","domain":[1,20],"range":[108.3,6],"nice":false},
           "axis":{"orient":"right","offset":-9,"title":null,"labels":false,"ticks":false,"domainColor":"#666"}}}}
   ],
   "resolve":{"axis":{"x":"independent","y":"independent"}}}
 ],
 "resolve":{"scale":{"x":"independent","y":"independent"}}
}
],
"config":{
 "font":"Liberation Sans",
 "view":{"stroke":"#8c8c8c"},
 "legend":{"labelFont":"Liberation Sans"},
 "axis":{"grid":false,"domainColor":"#444","tickColor":"#444","labelColor":"#222","titleColor":"#222","labelFont":"Liberation Sans","titleFont":"Liberation Sans","labelFontSize":11,"titleFontSize":10.5,"titleFontWeight":"normal","labelPadding":2,"labelOverlap":false},
 "axisX":{"labelPadding":3,"titlePadding":5},
 "axisY":{"titlePadding":5}
}
}
